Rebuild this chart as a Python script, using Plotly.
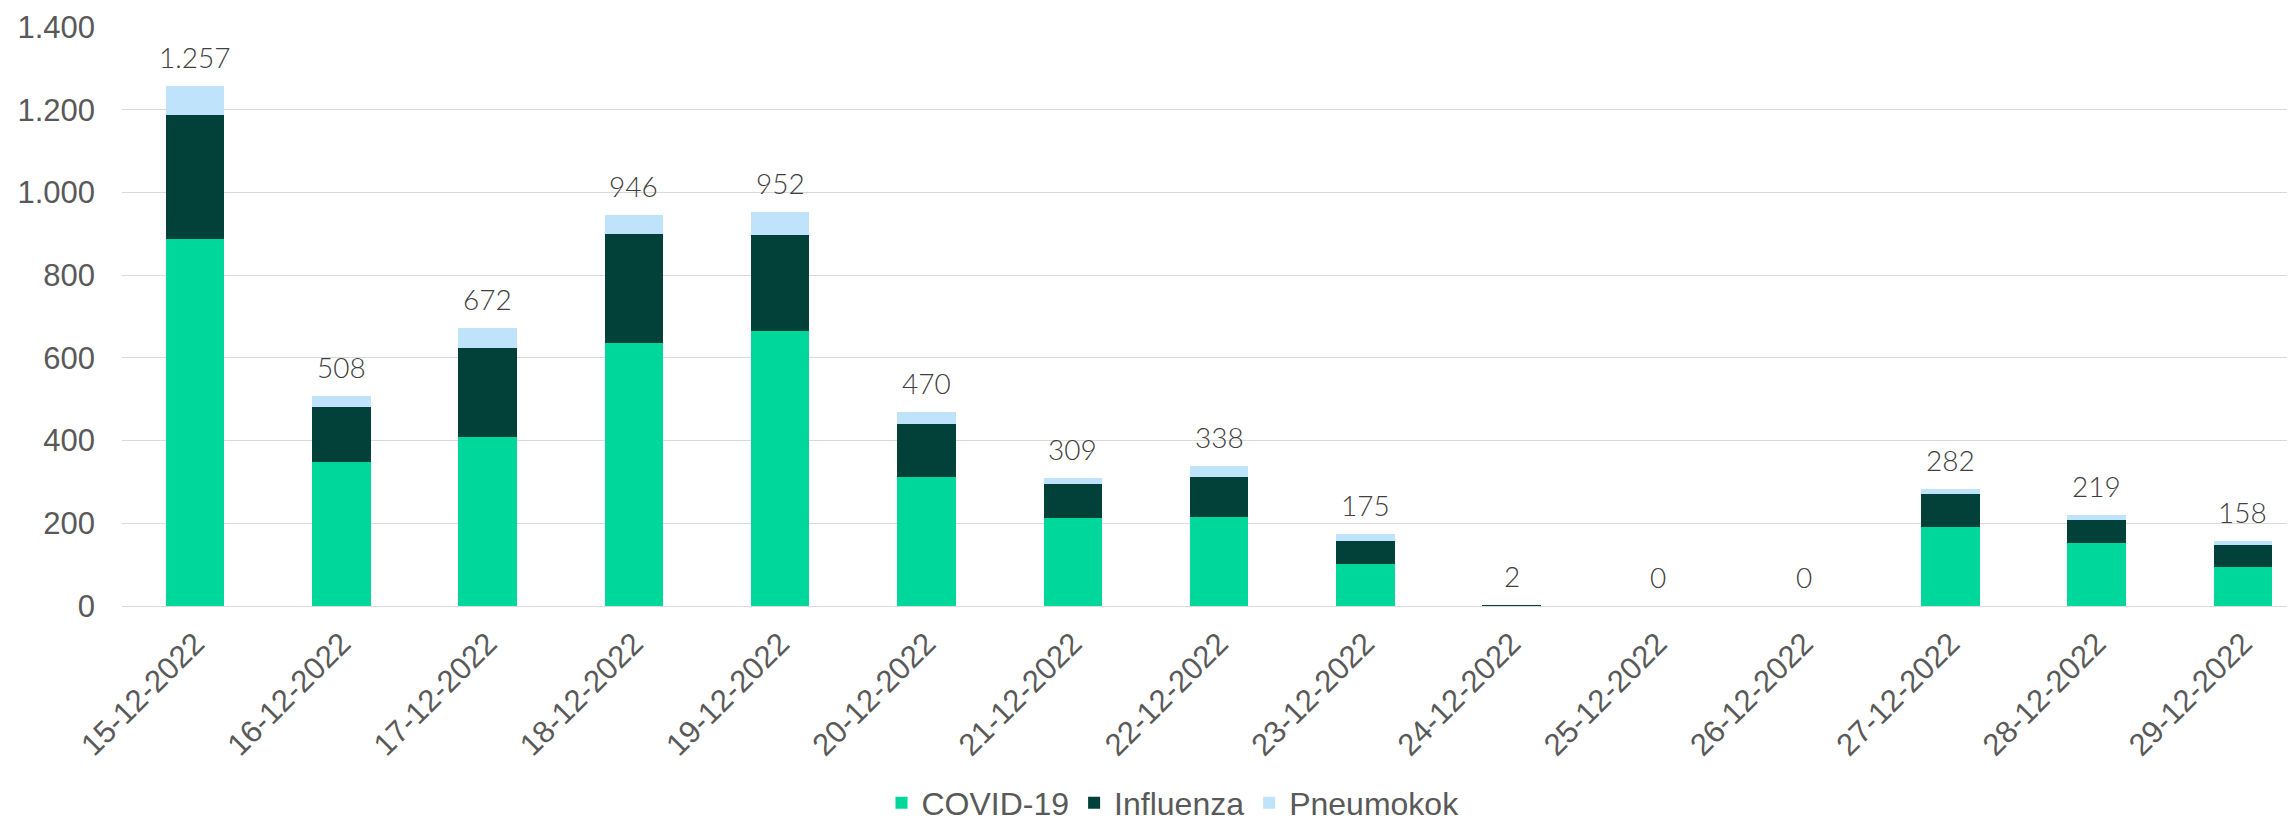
import plotly.graph_objects as go

dates = ["15-12-2022", "16-12-2022", "17-12-2022", "18-12-2022", "19-12-2022",
         "20-12-2022", "21-12-2022", "22-12-2022", "23-12-2022", "24-12-2022",
         "25-12-2022", "26-12-2022", "27-12-2022", "28-12-2022", "29-12-2022"]
covid = [887, 347, 409, 635, 665, 312, 213, 215, 102, 1, 0, 0, 191, 153, 94]
influenza = [300, 133, 214, 264, 231, 128, 82, 97, 54, 1, 0, 0, 81, 55, 54]
pneumokok = [70, 28, 49, 47, 56, 30, 14, 26, 19, 0, 0, 0, 10, 11, 10]
totals = [c + i + p for c, i, p in zip(covid, influenza, pneumokok)]
y_ticks = [0, 200, 400, 600, 800, 1000, 1200, 1400]

C_COVID = "#00D89B"
C_INFL = "#02413A"
C_PNEU = "#BEE3FB"

fig = go.Figure()
fig.add_bar(x=dates, y=covid, name="COVID-19", marker=dict(color=C_COVID, line=dict(width=0)))
fig.add_bar(x=dates, y=influenza, name="Influenza", marker=dict(color=C_INFL, line=dict(width=0)))
fig.add_bar(x=dates, y=pneumokok, name="Pneumokok", marker=dict(color=C_PNEU, line=dict(width=0)))

for d, t in zip(dates, totals):
    fig.add_annotation(x=d, y=t, text=f"{t:,}".replace(",", "."), showarrow=False,
                       yanchor="bottom", yshift=10,
                       font=dict(family="Lato", size=28, color="#404040", weight=300))

# the page body has an 8px default margin, so the figure is sized/offset to compensate
W, H = 2287, 814
fig.update_layout(
    barmode="stack",
    bargap=0.6,
    width=W, height=H,
    paper_bgcolor="white", plot_bgcolor="white",
    margin=dict(l=114, r=0, t=19, b=216),
    separators=",.",
    font=dict(family="Liberation Sans", color="#595959", size=31),
    legend=dict(orientation="h", x=1165 / W, xanchor="center", xref="container",
                y=1 - 795 / H, yanchor="middle", yref="container",
                font=dict(family="Liberation Sans", size=32, color="#595959"),
                traceorder="normal"),
    showlegend=True,
)
fig.update_xaxes(type="category", range=[-0.5, 14.356], tickangle=-45,
                 showgrid=False, showline=False, ticks="",
                 tickfont=dict(family="Liberation Sans", size=31, color="#595959"),
                 ticklabelstandoff=12)
fig.update_yaxes(range=[0, 1400], tickvals=y_ticks, tickformat=",",
                 showgrid=True, gridcolor="#D9D9D9", gridwidth=1.3,
                 zeroline=True, zerolinecolor="#D9D9D9", zerolinewidth=1.3,
                 showline=False, ticks="",
                 tickfont=dict(family="Liberation Sans", size=31, color="#595959"),
                 ticklabelstandoff=26)

fig.write_html("out.html")
